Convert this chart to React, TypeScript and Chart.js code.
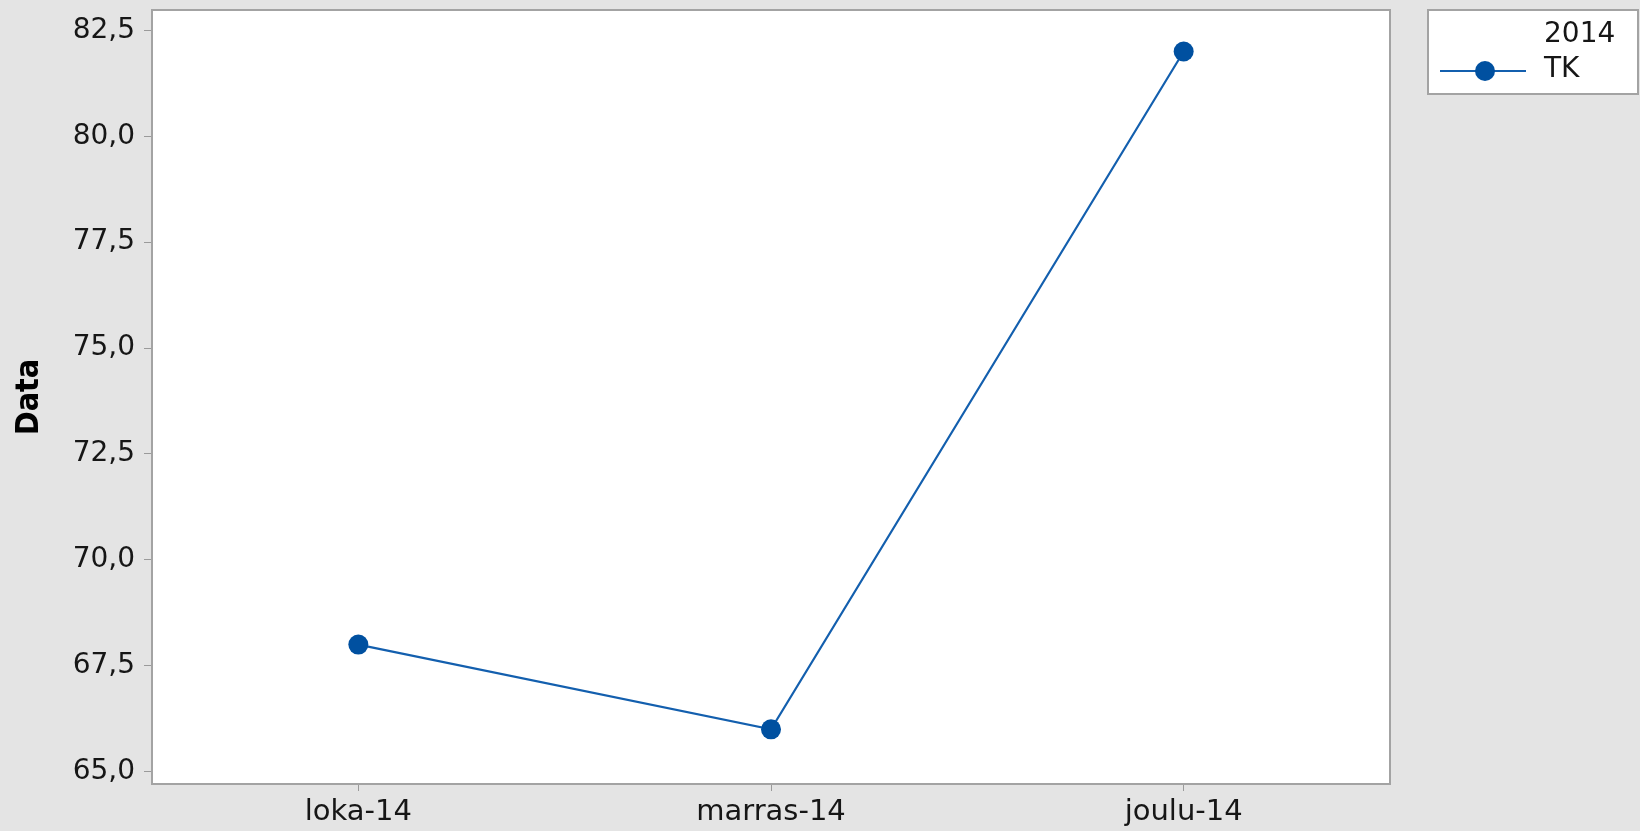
import React, { useEffect, useRef } from "react";
import { Chart, registerables } from "chart.js";

Chart.register(...registerables);

const categories: string[] = ["loka-14", "marras-14", "joulu-14"];
const seriesTK: number[] = [68, 66, 82];
const seriesLabel = "TK";
const legendTitle = "2014";
const yTickValues: number[] = [65, 67.5, 70, 72.5, 75, 77.5, 80, 82.5];
const yMin = 64.71;
const yMax = 82.98;
const yTitle = "Data";

const LINE_COLOR = "#135fae";
const MARKER_COLOR = "#0050a0";
const FRAME_COLOR = "#a3a3a3";
const TEXT_COLOR = "#161616";
const BG = "#e4e4e4";

const framePlugin = {
  id: "frame",
  beforeDraw(chart: any) {
    const { ctx, chartArea } = chart;
    ctx.save();
    ctx.fillStyle = BG;
    ctx.fillRect(0, 0, chart.width, chart.height);
    ctx.fillStyle = "#ffffff";
    ctx.fillRect(chartArea.left, chartArea.top, chartArea.right - chartArea.left, chartArea.bottom - chartArea.top);
    ctx.restore();
  },
  afterDraw(chart: any) {
    const { ctx, chartArea } = chart;
    ctx.save();
    ctx.strokeStyle = FRAME_COLOR;
    ctx.lineWidth = 2;
    ctx.strokeRect(chartArea.left, chartArea.top, chartArea.right - chartArea.left, chartArea.bottom - chartArea.top);
    // custom legend box, drawn from the dataset's own style
    const ds = chart.data.datasets[0];
    const bx = chartArea.right + 38;
    const by = chartArea.top;
    const bw = 210;
    const bh = 84;
    ctx.fillStyle = "#ffffff";
    ctx.fillRect(bx, by, bw, bh);
    ctx.strokeStyle = FRAME_COLOR;
    ctx.lineWidth = 2;
    ctx.strokeRect(bx, by, bw, bh);
    ctx.fillStyle = TEXT_COLOR;
    ctx.font = "28px 'DejaVu Sans', sans-serif";
    ctx.textBaseline = "middle";
    ctx.textAlign = "left";
    ctx.fillText(legendTitle, bx + 116, by + 25);
    ctx.fillText(ds.label, bx + 116, by + 60);
    const ly = by + 61;
    ctx.strokeStyle = ds.borderColor;
    ctx.lineWidth = 2;
    ctx.beginPath();
    ctx.moveTo(bx + 12, ly);
    ctx.lineTo(bx + 98, ly);
    ctx.stroke();
    ctx.fillStyle = ds.pointBackgroundColor;
    ctx.beginPath();
    ctx.arc(bx + 57, ly, ds.pointRadius, 0, Math.PI * 2);
    ctx.fill();
    ctx.restore();
  },
};

export default function App() {
  const ref = useRef<HTMLCanvasElement | null>(null);
  useEffect(() => {
    document.body.style.margin = "0";
    const canvas = ref.current!;
    const chart = new Chart(canvas, {
      type: "line",
      data: {
        labels: categories,
        datasets: [
          {
            label: seriesLabel,
            data: seriesTK,
            borderColor: LINE_COLOR,
            borderWidth: 2.2,
            pointRadius: 10,
            pointHoverRadius: 10,
            pointBackgroundColor: MARKER_COLOR,
            pointBorderColor: MARKER_COLOR,
            pointBorderWidth: 0,
            tension: 0,
            fill: false,
          },
        ],
      },
      plugins: [framePlugin],
      options: {
        responsive: false,
        animation: false,
        devicePixelRatio: 1,
        layout: { padding: { top: 8, right: 250, left: 0, bottom: 0 } },
        plugins: { legend: { display: false }, tooltip: { enabled: false } },
        scales: {
          x: {
            type: "category",
            offset: true,
            grid: { drawOnChartArea: false, drawTicks: true, tickLength: 7, color: "#9a9a9a", offset: false },
            border: { display: false },
            ticks: {
              color: TEXT_COLOR,
              font: { family: "'DejaVu Sans', sans-serif", size: 29 },
              padding: 4,
              maxRotation: 0,
            },
            afterFit(scale: any) {
              scale.height = 47;
              scale.paddingLeft = 0;
              scale.paddingRight = 0;
            },
          },
          y: {
            type: "linear",
            min: yMin,
            max: yMax,
            grid: { drawOnChartArea: false, drawTicks: true, tickLength: 8, color: "#9a9a9a" },
            border: { display: false },
            afterBuildTicks(scale: any) {
              scale.ticks = yTickValues.map((v) => ({ value: v }));
            },
            ticks: {
              color: TEXT_COLOR,
              font: { family: "'DejaVu Sans', sans-serif", size: 28 },
              padding: 9,
              callback: (v: any) => Number(v).toFixed(1).replace(".", ","),
            },
            title: {
              display: true,
              text: yTitle,
              color: "#000000",
              font: { family: "'DejaVu Sans Condensed', 'DejaVu Sans', sans-serif", size: 32, weight: "bold" },
              padding: { top: 10, bottom: 0 },
            },
            afterFit(scale: any) {
              scale.width = 152;
              scale.paddingTop = 0;
              scale.paddingBottom = 0;
            },
          },
        },
      },
    });
    return () => chart.destroy();
  }, []);
  return (
    <div style={{ position: "absolute", left: 0, top: 0, width: 1640, height: 831, background: BG }}>
      <canvas ref={ref} width={1640} height={831} style={{ display: "block" }} />
    </div>
  );
}
